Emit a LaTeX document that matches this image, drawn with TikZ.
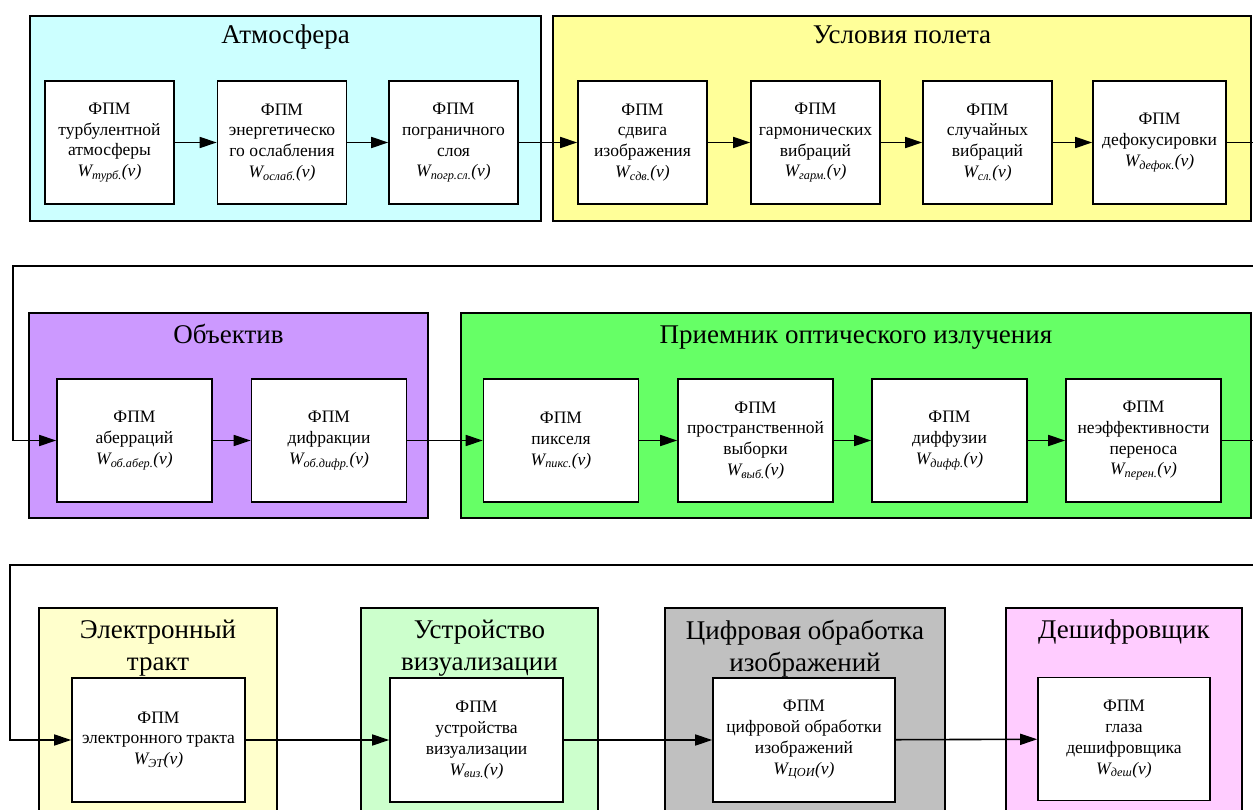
\documentclass[tikz,border=0pt]{standalone}
\usepackage{fontspec}
\setmainfont{Liberation Serif}
\usepackage{tikz}
\usetikzlibrary{arrows.meta, positioning, calc}
\definecolor{atmcyan}{RGB}{204,255,255}
\definecolor{flightyellow}{RGB}{255,255,153}
\definecolor{lenspurple}{RGB}{204,153,255}
\definecolor{recvgreen}{RGB}{102,255,102}
\definecolor{elyellow}{RGB}{255,255,204}
\definecolor{visgreen}{RGB}{204,255,204}
\definecolor{digigray}{RGB}{192,192,192}
\definecolor{decpink}{RGB}{255,204,255}
\newcommand{\fpmw}[1]{\textit{W\textsubscript{#1}(ν)}}

\begin{document}
\begin{tikzpicture}[x=1pt, y=-1pt,
  every node/.style={font=\fontsize{17.5}{20.8}\selectfont, align=center},
  fpmbox/.style={draw, line width=1.6pt, fill=white, minimum height=123pt, inner sep=2pt},
  grpbox/.style={draw, line width=1.2pt},
  grptitle/.style={font=\fontsize{27}{32}\selectfont, inner sep=0pt},
  conn/.style={line width=1.6pt, -{Triangle[length=17pt, width=11pt]}},
]
  \useasboundingbox (0,0) rectangle (1253,810);
  \clip (0,0) rectangle (1253,810);

  % Row 1: atmosphere and flight conditions
  \draw[grpbox, fill=atmcyan] (30,16) rectangle (541,221);
  \draw[grpbox, fill=flightyellow] (553,16) rectangle (1251,221);
  \node[grptitle, anchor=base] (tatm) at (285.5,44) {Атмосфера};
  \node[grptitle, anchor=base] (tflight) at (902,44) {Условия полета};

  \node[fpmbox, minimum width=129pt] (turb) at (109.5,142.5) {ФПМ\\турбулентной\\атмосферы\\\fpmw{турб.}};
  \node[fpmbox, minimum width=129pt] (oslab) at (282,142.5) {ФПМ\\энергетическо\\го ослабления\\\fpmw{ослаб.}};
  \node[fpmbox, minimum width=129pt] (pogr) at (453.5,142.5) {ФПМ\\пограничного\\слоя\\\fpmw{погр.сл.}};
  \node[fpmbox, minimum width=129pt] (sdv) at (642.5,142.5) {ФПМ\\сдвига\\изображения\\\fpmw{сдв.}};
  \node[fpmbox, minimum width=129pt] (garm) at (815.5,142.5) {ФПМ\\гармонических\\вибраций\\\fpmw{гарм.}};
  \node[fpmbox, minimum width=129pt] (slvib) at (987.5,142.5) {ФПМ\\случайных\\вибраций\\\fpmw{сл.}};
  \node[fpmbox, minimum width=133pt] (defok) at (1159.5,142.5) {ФПМ\\дефокусировки\\\fpmw{дефок.}};

  \draw[conn] (turb) -- (oslab);
  \draw[conn] (oslab) -- (pogr);
  \draw[conn] (pogr) -- (sdv);
  \draw[conn] (sdv) -- (garm);
  \draw[conn] (garm) -- (slvib);
  \draw[conn] (slvib) -- (defok);

  % Row 2: lens and optical receiver
  \draw[grpbox, fill=lenspurple] (29,313) rectangle (428,518);
  \draw[grpbox, fill=recvgreen] (461,313) rectangle (1251,518);
  \node[grptitle, anchor=base] (tlens) at (228.5,343) {Объектив};
  \node[grptitle, anchor=base] (trecv) at (856,343) {Приемник оптического излучения};

  \node[fpmbox, minimum width=155pt] (aber) at (134.5,440.5) {ФПМ\\аберраций\\\fpmw{об.абер.}};
  \node[fpmbox, minimum width=155pt] (difr) at (329,440.5) {ФПМ\\дифракции\\\fpmw{об.дифр.}};
  \node[fpmbox, minimum width=155pt] (piks) at (561,440.5) {ФПМ\\пикселя\\\fpmw{пикс.}};
  \node[fpmbox, minimum width=155pt] (vyb) at (755.5,440.5) {ФПМ\\пространственной\\выборки\\\fpmw{выб.}};
  \node[fpmbox, minimum width=155pt] (diff) at (949.5,440.5) {ФПМ\\диффузии\\\fpmw{дифф.}};
  \node[fpmbox, minimum width=155pt] (peren) at (1143.5,440.5) {ФПМ\\неэффективности\\переноса\\\fpmw{перен.}};

  \draw[conn] (defok.east) -- (1270,142.5) -- (1270,266) -- (13,266) |- (aber.west);
  \draw[conn] (aber) -- (difr);
  \draw[conn] (difr) -- (piks);
  \draw[conn] (piks) -- (vyb);
  \draw[conn] (vyb) -- (diff);
  \draw[conn] (diff) -- (peren);

  % Row 3: electronics, display, processing, observer
  \draw[grpbox, fill=elyellow] (39,608) rectangle (277,840);
  \draw[grpbox, fill=visgreen] (361,608) rectangle (598,840);
  \draw[grpbox, fill=digigray] (665,608) rectangle (945,840);
  \draw[grpbox, fill=decpink] (1006,608) rectangle (1242,840);
  \node[grptitle, anchor=north] (tel) at (158,619.5) {Электронный\\тракт};
  \node[grptitle, anchor=north] (tvis) at (479.5,619.5) {Устройство\\визуализации};
  \node[grptitle, anchor=north] (tdig) at (805,619.5) {Цифровая обработка\\изображений};
  \node[grptitle, anchor=base] (tdec) at (1124,638) {Дешифровщик};

  \node[fpmbox, minimum width=173pt, minimum height=124pt] (elt) at (158.5,740) {ФПМ\\электронного тракта\\\fpmw{ЭТ}};
  \node[fpmbox, minimum width=173pt, minimum height=124pt] (viz) at (476.5,740) {ФПМ\\устройства\\визуализации\\\fpmw{виз.}};
  \node[fpmbox, minimum width=182pt, minimum height=124pt] (coi) at (804,740) {ФПМ\\цифровой обработки\\изображений\\\fpmw{ЦОИ}};
  \node[fpmbox, minimum width=172pt] (desh) at (1124,739) {ФПМ\\глаза\\дешифровщика\\\fpmw{деш}};

  \draw[conn] (peren.east) -- (1270,440.5) -- (1270,565) -- (10,565) |- (elt.west);
  \draw[conn] (elt) -- (viz);
  \draw[conn] (viz) -- (coi);
  \draw[conn] (coi) -- (desh);
\end{tikzpicture}
\end{document}
